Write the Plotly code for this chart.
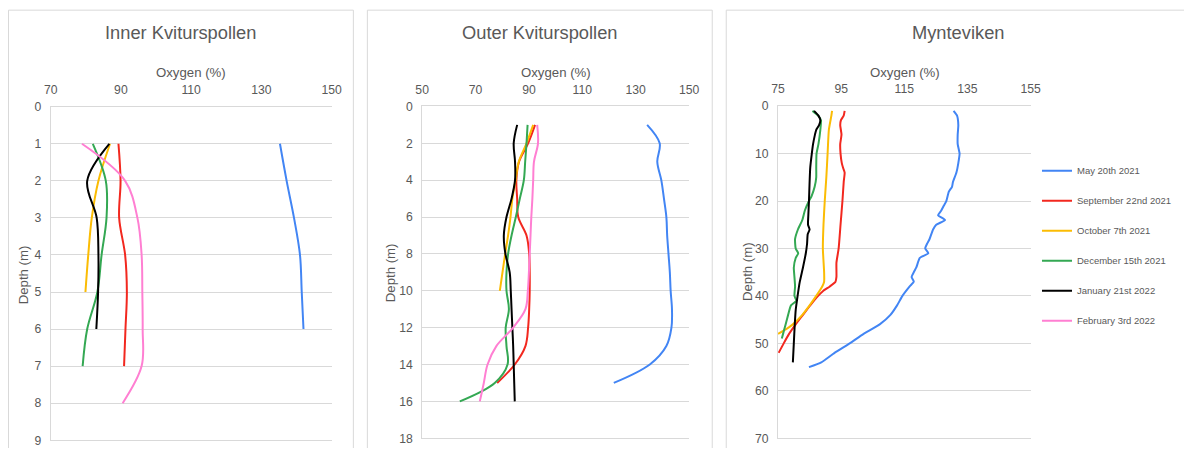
import plotly.graph_objects as go

W, H = 1184, 448
# mapping from figure pixels to the photographed window pixels
# (page margin of 8px, page scaled to fit the 1184x456 window)
SX, BX = 0.986, 7.0
SY, BY = 0.981, 7.3
FS = 1 / 0.984  # font compensation

series_names = ["May 20th 2021", "September 22nd 2021", "October 7th 2021",
                "December 15th 2021", "January 21st 2022", "February 3rd 2022"]
series_colors = ["#4285f4", "#f2281f", "#fbbc04", "#34a853", "#000000", "#ff7fd2"]

# ---------------- Inner Kviturspollen ----------------
inner_depth_may = [1, 2, 3, 4, 5, 6]
inner_may = [135.3, 137.2, 139.3, 141.0, 141.5, 142.0]
inner_depth_sep = [1, 2, 3, 4, 5, 6, 7]
inner_sep = [89.3, 89.9, 89.5, 91.2, 91.7, 91.3, 90.9]
inner_depth_oct = [1, 2, 3, 4, 5]
inner_oct = [86.9, 83.6, 81.7, 80.7, 79.9]
inner_depth_dec = [1, 2, 3, 4, 5, 6, 7]
inner_dec = [82.0, 85.7, 85.9, 84.5, 83.3, 80.4, 79.1]
inner_depth_jan = [1, 2, 3, 4, 5, 6]
inner_jan = [86.7, 80.4, 83.1, 83.6, 83.5, 83.0]
inner_depth_feb = [1, 2, 3, 4, 5, 6, 7, 8]
inner_feb = [78.9, 91.2, 94.7, 95.9, 96.1, 96.2, 95.9, 90.5]

# ---------------- Outer Kviturspollen ----------------
outer_depth_may = [1, 2, 3, 4, 5, 6, 7, 8, 9, 10, 11, 12, 13, 14, 15]
outer_may = [134.3, 139.0, 138.1, 139.6, 140.6, 141.5, 141.8, 142.3, 142.8,
             143.1, 143.6, 143.4, 141.5, 135.3, 121.8]
outer_depth_sep = [1, 2, 3, 4, 5, 6, 7, 8, 9, 10, 11, 12, 13, 14, 15]
outer_sep = [92.3, 89.7, 86.3, 85.3, 85.6, 86.0, 89.1, 90.1, 90.3, 90.3,
             90.1, 89.7, 88.7, 84.7, 78.1]
outer_depth_oct = [1, 2, 3, 4, 5, 6, 7, 8, 9, 10]
outer_oct = [91.6, 89.1, 86.2, 85.0, 83.8, 83.1, 82.2, 81.1, 80.1, 79.1]
outer_depth_dec = [1, 2, 3, 4, 5, 6, 7, 8, 9, 10, 11, 12, 13, 14, 15, 16]
outer_dec = [89.5, 89.1, 88.6, 88.1, 86.6, 85.1, 83.5, 82.2, 81.6, 81.6,
             82.5, 81.3, 81.6, 82.0, 77.2, 64.1]
outer_depth_jan = [1, 2, 3, 4, 5, 6, 7, 8, 9, 10, 11, 12, 13, 14, 15, 16]
outer_jan = [85.6, 84.3, 84.8, 84.8, 83.5, 81.6, 80.6, 81.2, 82.8, 83.2,
             83.5, 83.8, 84.1, 84.3, 84.5, 84.7]
outer_depth_feb = [1, 2, 3, 4, 5, 6, 7, 8, 9, 10, 11, 12, 13, 14, 15, 16]
outer_feb = [93.1, 93.4, 91.9, 91.6, 91.3, 90.9, 90.6, 90.3, 90.0, 89.6,
             88.7, 84.1, 77.8, 74.5, 73.1, 71.6]

# ---------------- Mynteviken ----------------
myn_depth_may = [1, 2, 4, 6, 8, 10, 12, 14, 16, 17, 18, 20, 21, 22, 23, 24, 25,
                 26, 28, 29, 30, 31, 32, 34, 35, 36, 37, 38, 40, 42, 44, 46,
                 48, 50, 52, 54, 55]
myn_may = [130.6, 131.7, 132.1, 131.9, 131.9, 132.5, 132.1, 131.5, 130.4, 130.1,
           129.1, 128.3, 127.5, 126.7, 125.7, 127.9, 125.1, 124.1, 123.0, 122.2,
           121.6, 122.6, 119.9, 118.8, 118.0, 117.3, 118.0, 116.7, 114.4, 112.7,
           110.6, 107.2, 102.1, 97.7, 92.9, 88.7, 84.8]
myn_depth_sep = [1, 2, 3, 4, 6, 8, 10, 12, 13, 14, 16, 20, 25, 30, 33, 36, 37,
                 38, 39, 40, 42, 44, 46, 48, 50, 52]
myn_sep = [96.1, 95.8, 94.9, 94.7, 95.1, 94.7, 94.8, 95.2, 95.6, 96.1, 95.8,
           95.4, 94.8, 94.2, 93.5, 93.5, 93.2, 91.4, 89.2, 87.7, 85.2, 82.9,
           80.6, 78.5, 76.8, 75.2]
myn_depth_oct = [1, 2, 5, 10, 15, 20, 25, 30, 35, 37, 38, 40, 42, 44, 46, 47, 48]
myn_oct = [92.1, 91.9, 91.1, 90.7, 90.3, 89.8, 89.4, 89.2, 89.6, 89.6, 89.0,
           87.1, 85.0, 82.7, 79.7, 77.6, 75.0]
myn_depth_dec = [1, 2, 3, 5, 8, 10, 13, 15, 17, 19, 20, 22, 24, 26, 28, 30, 31,
                 32, 34, 36, 38, 40, 41, 42, 44, 46, 48, 49]
myn_dec = [85.9, 87.7, 88.6, 88.4, 87.8, 87.2, 87.1, 87.1, 86.6, 85.6, 84.8,
           83.5, 82.7, 81.3, 80.4, 80.6, 81.4, 80.6, 80.0, 80.2, 80.4, 80.2,
           80.8, 79.1, 78.2, 77.4, 76.6, 76.2]
myn_depth_jan = [1, 2, 3, 4, 5, 6, 8, 10, 13, 16, 20, 23, 25, 26, 27, 29, 31,
                 34, 37, 40, 43, 46, 50, 54]
myn_jan = [86.4, 87.8, 88.4, 88.0, 87.1, 86.7, 86.1, 85.7, 85.2, 85.0, 84.8,
           84.6, 84.5, 85.0, 84.4, 84.2, 83.8, 82.9, 81.9, 81.2, 80.6, 80.3,
           80.0, 79.7]

panel_titles = ["Inner Kviturspollen", "Outer Kviturspollen", "Mynteviken"]
x_axis_title = "Oxygen (%)"
y_axis_title = "Depth (m)"
x_ranges = [[70, 150], [50, 150], [75, 155]]
x_dticks = [20, 20, 20]
y_ranges = [[9, 0], [18, 0], [70, 0]]
y_dticks = [1, 2, 10]

panels = [
    [(inner_depth_may, inner_may), (inner_depth_sep, inner_sep), (inner_depth_oct, inner_oct),
     (inner_depth_dec, inner_dec), (inner_depth_jan, inner_jan), (inner_depth_feb, inner_feb)],
    [(outer_depth_may, outer_may), (outer_depth_sep, outer_sep), (outer_depth_oct, outer_oct),
     (outer_depth_dec, outer_dec), (outer_depth_jan, outer_jan), (outer_depth_feb, outer_feb)],
    [(myn_depth_may, myn_may), (myn_depth_sep, myn_sep), (myn_depth_oct, myn_oct),
     (myn_depth_dec, myn_dec), (myn_depth_jan, myn_jan)],
]

# layout geometry in window pixels
plot_x = [(50.7, 331.7), (422.3, 689.3), (778.3, 1031.0)]
plot_y = [(108.3, 446.0), (108.0, 444.0), (107.7, 444.0)]
frames = [(8.5, 353.5), (367.5, 712.5), (726.5, 1250)]
title_x = [181, 540, 958]
oxy_x = [191, 556, 905]
depth_x = [23, 390, 748]
depth_y = [278, 276, 275]


def fx(px):
    return ((px - BX) / SX) / W


def fy(py):
    return 1 - ((py - BY) / SY) / H


GRID = "#d9d9d9"
TXT = "#595959"
FONT = "Liberation Sans, Arial, sans-serif"

fig = go.Figure()

for p, traces in enumerate(panels):
    sfx = "" if p == 0 else str(p + 1)
    for s, (d, v) in enumerate(traces):
        fig.add_trace(go.Scatter(
            x=v, y=d, mode="lines", name=series_names[s],
            legendgroup=series_names[s], showlegend=(p == 0),
            line=dict(color=series_colors[s], width=2,
                      shape="spline", smoothing=(1.0 if p < 2 else 0.5)),
            xaxis="x" + sfx, yaxis="y" + sfx, hoverinfo="skip",
        ))

layout = dict(
    width=W, height=H, autosize=False,
    margin=dict(l=0, r=0, t=0, b=0),
    paper_bgcolor="white", plot_bgcolor="white",
    font=dict(family=FONT, color=TXT, size=12),
    legend=dict(x=1045 / W, y=1 - 154 / H, xanchor="left", yanchor="top",
                font=dict(family="Liberation Sans, Arial", size=9.5, color=TXT),
                tracegroupgap=11, itemwidth=30, bgcolor="rgba(0,0,0,0)"),
    shapes=[], annotations=[],
)

for p in range(3):
    sfx = "" if p == 0 else str(p + 1)
    layout["xaxis" + sfx] = dict(
        domain=[fx(plot_x[p][0]), fx(plot_x[p][1])],
        anchor="y" + sfx, side="top", range=x_ranges[p], dtick=x_dticks[p],
        tick0=x_ranges[p][0], showgrid=False, zeroline=False,
        showline=True, linecolor=GRID, linewidth=1, mirror=True,
        ticks="", ticklabelstandoff=7, tickfont=dict(size=12 * FS, color=TXT),
    )
    layout["yaxis" + sfx] = dict(
        domain=[max(0.0, fy(plot_y[p][1])), fy(plot_y[p][0])],
        anchor="x" + sfx, range=y_ranges[p], dtick=y_dticks[p],
        showgrid=True, gridcolor=GRID, gridwidth=1, zeroline=False,
        showline=True, linecolor=GRID, linewidth=1,
        ticks="", ticklabelstandoff=6, ticklabeloverflow="allow",
        tickfont=dict(size=12 * FS, color=TXT),
    )
    layout["shapes"].append(dict(
        type="rect", xref="paper", yref="paper",
        x0=fx(frames[p][0]), x1=fx(frames[p][1]), y0=fy(480), y1=fy(10.5),
        line=dict(color=GRID, width=1), fillcolor="rgba(0,0,0,0)", layer="below",
    ))
    layout["annotations"].append(dict(
        text=panel_titles[p], xref="paper", yref="paper",
        x=fx(title_x[p]), y=fy(33), xanchor="center", yanchor="middle",
        showarrow=False, font=dict(size=18 * FS, color=TXT),
    ))
    layout["annotations"].append(dict(
        text=x_axis_title, xref="paper", yref="paper",
        x=fx(oxy_x[p]), y=fy(74), xanchor="center", yanchor="middle",
        showarrow=False, font=dict(size=13 * FS, color=TXT),
    ))
    layout["annotations"].append(dict(
        text=y_axis_title, xref="paper", yref="paper", textangle=-90,
        x=fx(depth_x[p]), y=fy(depth_y[p]), xanchor="center", yanchor="middle",
        showarrow=False, font=dict(size=13 * FS, color=TXT),
    ))

fig.update_layout(**layout)
fig.write_html("out.html")
